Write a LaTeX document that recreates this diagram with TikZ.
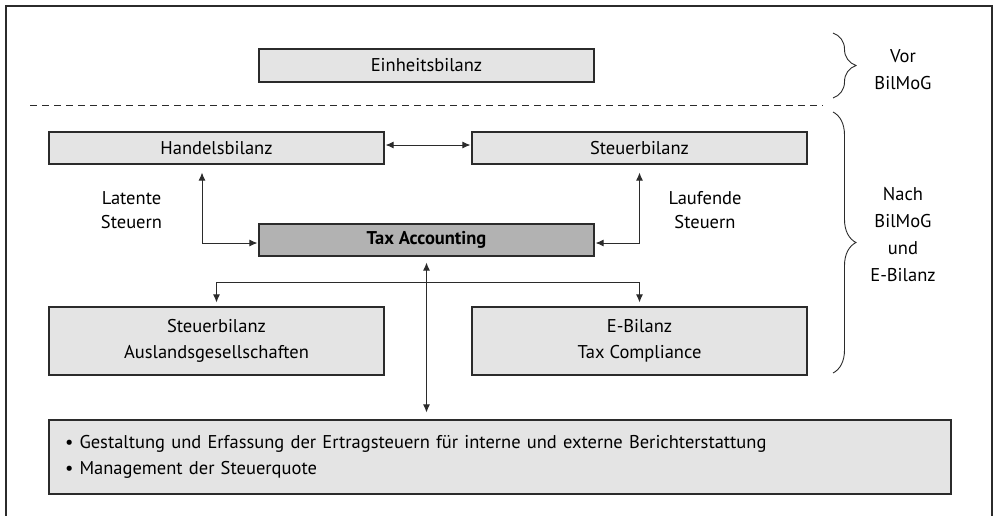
\documentclass[tikz,border=0pt]{standalone}
\usepackage{fontspec}
\setmainfont{PT Sans}
\usetikzlibrary{arrows.meta,decorations.pathreplacing,positioning}
\definecolor{bilgray}{HTML}{E4E4E4}
\definecolor{bildark}{HTML}{B2B2B2}
\definecolor{billine}{HTML}{2B2B2B}

\begin{document}
\begin{tikzpicture}[x=1pt,y=-1pt,
 font=\fontsize{18.5}{26}\selectfont,
 bilbox/.style={draw=billine,fill=bilgray,line width=1.1pt,inner sep=0pt,minimum width=335pt,minimum height=32pt,align=center},
 bilarrow/.style={{Latex[length=8pt,width=7pt]}-{Latex[length=8pt,width=7pt]},line width=1pt,draw=billine},
 bilbrace/.style={decorate,decoration={brace,amplitude=23pt},line width=0.9pt,draw=billine}
]
\useasboundingbox (0,0) rectangle (997,515);
\draw[line width=1.2pt,draw=billine] (6,530) -- (6,6) -- (992,6) -- (992,530);
\node[bilbox,minimum height=33pt] (einheit) at (426.5,65.5) {Einheitsbilanz};
\node[bilbox] (handels) at (216.5,148) {Handelsbilanz};
\node[bilbox] (steuer) at (639.5,148) {Steuerbilanz};
\node[bilbox,fill=bildark,font=\fontsize{18.5}{26}\selectfont\bfseries] (taxacc) at (426.5,240) {Tax Accounting};
\node[bilbox,minimum height=68pt] (ausland) at (216.5,341) {Steuerbilanz\\Auslandsgesellschaften};
\node[bilbox,minimum height=68pt] (ebilanz) at (639.5,341) {E-Bilanz\\Tax Compliance};
\node[bilbox,minimum height=74pt,text width=870pt,inner xsep=16pt,align=left] (aufgaben) at (500,457)
  {\textbullet\ Gestaltung und Erfassung der Ertragsteuern für interne und externe Berichterstattung\\
   \textbullet\ Management der Steuerquote};
\node[align=center,font=\fontsize{18.5}{24}\selectfont] (latente) at (131.5,210) {Latente\\Steuern};
\node[align=center,font=\fontsize{18.5}{24}\selectfont] (laufende) at (705,210) {Laufende\\Steuern};
\node[align=center,font=\fontsize{18.5}{27}\selectfont] (vor) at (903,70) {Vor\\BilMoG};
\node[align=center,font=\fontsize{18.5}{27}\selectfont] (nach) at (903,234.5) {Nach\\BilMoG\\und\\E-Bilanz};
% trennlinie und klammern
\coordinate (trennl) at (30,105);
\coordinate (trennr) at (823,105);
\draw[dash pattern=on 7pt off 5pt,line width=1pt,draw=billine] (trennl) -- (trennr);
\coordinate (vortop) at (833,33);
\coordinate (vorbot) at (833,98);
\coordinate (nachtop) at (833,112);
\coordinate (nachbot) at (833,373);
\draw[bilbrace] (vortop) -- (vorbot);
\draw[bilbrace] (nachtop) -- (nachbot);
% pfeile
\draw[bilarrow] ([xshift=1pt,yshift=3pt]handels.east) -- ([xshift=-1pt,yshift=3pt]steuer.west);
\draw[bilarrow] ([xshift=-14.5pt,yshift=-8pt]handels.south) |- ([xshift=-1pt,yshift=-3pt]taxacc.west);
\draw[bilarrow] ([yshift=-8pt]steuer.south) |- ([xshift=1pt,yshift=-3pt]taxacc.east);
\draw[bilarrow] ([yshift=-6pt]taxacc.south) -- ([yshift=7pt]taxacc.south |- aufgaben.north);
\draw[bilarrow] ([yshift=4pt]ausland.north) -- ++(0,-20) -| ([yshift=4pt]ebilanz.north);
\end{tikzpicture}
\end{document}
